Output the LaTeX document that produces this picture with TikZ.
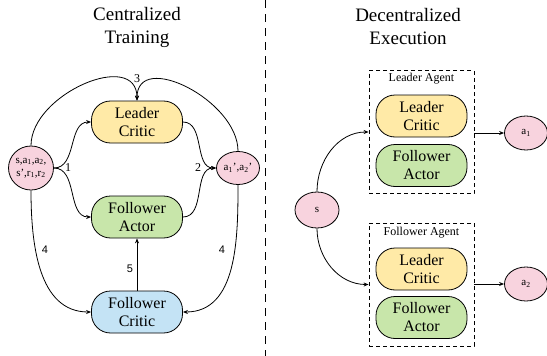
\documentclass[tikz,border=0pt]{standalone}
\usepackage{fontspec}
\setmainfont{Liberation Serif}
\setsansfont{Liberation Sans}
\usetikzlibrary{arrows.meta,shapes.geometric}
\definecolor{cyellow}{HTML}{FFEAA7}
\definecolor{cgreen}{HTML}{C8E6AA}
\definecolor{cblue}{HTML}{C4E3F5}
\definecolor{cpink}{HTML}{F8D3DE}
\tikzset{
  blk/.style={draw, line width=0.8pt, rounded corners=19pt, minimum width=91pt, minimum height=42pt, align=center, font=\rmfamily\fontsize{16}{18}\selectfont, inner sep=0pt},
  lc/.style={blk, fill=cyellow},
  fa/.style={blk, fill=cgreen},
  fc/.style={blk, fill=cblue},
  ell/.style={draw, ellipse, line width=0.8pt, fill=cpink, inner sep=0pt, align=center, font=\rmfamily\fontsize{11}{13}\selectfont},
  con/.style={line width=0.8pt, -{Stealth[length=5pt,width=4pt]}},
  lbl/.style={font=\rmfamily\fontsize{12}{14}\selectfont, inner sep=0pt},
  slbl/.style={font=\sffamily\fontsize{11}{13}\selectfont, inner sep=0pt},
  agbox/.style={draw, line width=0.8pt, dash pattern=on 4pt off 3pt, minimum width=105pt, minimum height=123pt, inner sep=0pt},
  agttl/.style={font=\rmfamily\fontsize{12}{14}\selectfont, inner sep=0pt},
  ttl/.style={align=center, font=\rmfamily\fontsize{19}{23}\selectfont, inner sep=0pt}
}
\begin{document}
\begin{tikzpicture}[x=1pt, y=-1pt]
\useasboundingbox (0,0) rectangle (547,356);
% titles
\node[ttl] (t1) at (137,27) {Centralized\\Training};
\node[ttl] (t2) at (408,27) {Decentralized\\Execution};
\coordinate (dtop) at (265,0);
\coordinate (dbot) at (265,356);
\draw[line width=0.8pt, dash pattern=on 8pt off 6pt] (dtop) -- (dbot);
% left side
\node[lc] (LC) at (137,122) {Leader\\Critic};
\node[fa] (FA) at (137,217) {Follower\\Actor};
\node[fc] (FC) at (137,312) {Follower\\Critic};
\node[ell, minimum width=45pt, minimum height=44pt] (E1) at (31,168) {s,a\textsubscript{1},a\textsubscript{2},\\s',r\textsubscript{1},r\textsubscript{2}};
\node[ell, minimum width=43pt, minimum height=33pt] (E2) at (238,168) {a\textsubscript{1}',a\textsubscript{2}'};
\draw[con] (E1.east) to[out=0,in=180] (LC.west);
\draw[con] (E1.east) to[out=0,in=180] (FA.west);
\draw[con] (LC.east) to[out=0,in=180] (E2.west);
\draw[con] (FA.east) to[out=0,in=180] (E2.west);
\draw[con] (E1.north) to[out=90,in=90,looseness=1.15] (LC.north);
\draw[con] (E2.north) to[out=90,in=90,looseness=1.15] (LC.north);
\draw[con] (E1.south) to[out=-90,in=180] (FC.west);
\draw[con] (E2.south) to[out=-90,in=0] (FC.east);
\draw[con] (FC.north) -- (FA.south);
\node[lbl] (l1) at (68,168) {1};
\node[lbl] (l2) at (198,168) {2};
\node[lbl] (l3) at (137,79) {3};
\node[slbl] (l4a) at (45,250) {4};
\node[slbl] (l4b) at (222,250) {4};
\node[slbl] (l5) at (130,269) {5};
% right side
\node[agbox] (B1) at (421.5,132) {};
\node[agttl] (B1t) at (421.5,79) {Leader Agent};
\node[lc] (LC2) at (421.5,116) {Leader\\Critic};
\node[fa] (FA2) at (421.5,165.5) {Follower\\Actor};
\node[agbox] (B2) at (421.5,284.5) {};
\node[agttl] (B2t) at (421.5,233) {Follower Agent};
\node[lc] (LC3) at (421.5,269) {Leader\\Critic};
\node[fa] (FA3) at (421.5,317.5) {Follower\\Actor};
\node[ell, minimum width=44pt, minimum height=36pt] (S) at (317,210) {s};
\node[ell, minimum width=43pt, minimum height=34pt] (A1) at (526,133) {a\textsubscript{1}};
\node[ell, minimum width=43pt, minimum height=34pt] (A2) at (526,284) {a\textsubscript{2}};
\draw[con] (S.north) to[out=90,in=180] (B1.west);
\draw[con] (S.south) to[out=-90,in=180] (B2.west);
\draw[con] (B1.east |- A1) -- (A1.west);
\draw[con] (B2.east |- A2) -- (A2.west);
\end{tikzpicture}
\end{document}
